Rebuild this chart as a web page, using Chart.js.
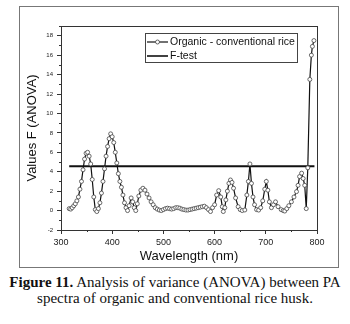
<!DOCTYPE html>
<html>
<head>
<meta charset="utf-8">
<script src="https://cdn.jsdelivr.net/npm/chart.js@4/dist/chart.umd.min.js"></script>
<style>
  body { margin: 0; width: 350px; height: 324px; background: #fff; position: relative; overflow: hidden; }
  #frame { position: absolute; left: 19px; top: 6px; width: 320px; height: 262px; box-sizing: border-box; border: 1px solid #777; }
  #chart { position: absolute; left: 0; top: 0; }
  #caption { position: absolute; left: 0; top: 275px; width: 350px; text-align: center;
    font-family: "Liberation Serif", "Times New Roman", serif; font-size: 15px; line-height: 15.5px; color: #111; }
</style>
</head>
<body>
<div id="frame"><canvas id="chart" width="318" height="260"></canvas></div>
<div id="caption"><b>Figure 11.</b> Analysis of variance (ANOVA) between PA<br>spectra of organic and conventional rice husk.</div>
<script>
// values
const wavelengths = [
  316, 319, 322, 325, 328, 331, 334, 337, 340, 343, 346, 349, 352, 355, 358, 361, 364, 367, 370, 373,
  376, 379, 382, 385, 388, 391, 394, 397, 400, 403, 406, 409, 412, 415, 418, 421, 424, 427, 430, 433,
  437, 440, 443, 446, 449, 452, 456, 460, 464, 468, 472, 476, 480, 484, 488, 492, 496, 500, 504, 508,
  512, 516, 520, 524, 528, 532, 536, 540, 544, 548, 552, 556, 560, 564, 568, 572, 576, 580, 584, 588,
  592, 596, 600, 604, 608, 612, 615, 617, 620, 622, 625, 628, 631, 634, 637, 641, 646, 650, 654, 659,
  663, 666, 669, 672, 675, 678, 682, 686, 690, 694, 698, 701, 704, 707, 711, 715, 719, 724, 730, 734,
  737, 741, 745, 750, 755, 760, 763, 766, 770, 773, 776, 779, 782, 786, 789, 791, 794
];
const fValues = [
  0.2, 0.15, 0.3, 0.5, 0.7, 1.0, 1.4, 2.2, 3.0, 4.2, 5.3, 5.9, 6.0, 5.6, 4.8, 3.2, 1.4, 0.1, -0.1, 0.2,
  0.8, 1.8, 3.0, 4.3, 5.6, 6.6, 7.4, 7.9, 7.6, 7.0, 6.0, 4.9, 3.8, 3.0, 2.4, 1.6, 0.8, 0.3, 0.0, 0.5,
  1.3, 0.9, 0.3, 0.0, 0.7, 1.5, 2.1, 2.3, 2.1, 1.7, 1.3, 0.9, 0.6, 0.3, 0.15, 0.05, 0.0, 0.1, 0.2, 0.25,
  0.2, 0.15, 0.2, 0.3, 0.3, 0.25, 0.15, 0.1, 0.05, 0.05, 0.1, 0.15, 0.2, 0.25, 0.3, 0.35, 0.4, 0.45, 0.3, 0.1,
  -0.1, 0.3, 0.6, 1.6, 2.05, 1.4, 0.4, -0.1, 0.3, 1.1, 2.0, 2.8, 3.15, 2.9, 2.3, 1.3, 0.4, 0.1, 0.0, 0.06,
  1.6, 3.0, 4.8, 2.8, 1.4, 0.6, 0.1, 0.05, 0.3, 1.0, 2.2, 3.0, 2.1, 0.9, 0.3, 0.6, 0.9, 0.4, 0.1, 0.0,
  -0.05, 0.2, 0.5, 0.9, 1.4, 1.95, 2.6, 3.5, 3.85, 3.3, 2.6, 0.2, 4.4, 13.5, 16.0, 16.9, 17.5
];
const fTestRange = [316, 795];
const fTestValue = 4.55;
const seriesLabels = ['Organic - conventional rice', 'F-test'];
const xTicks = [300, 400, 500, 600, 700, 800];
const yTicks = [-2, 0, 2, 4, 6, 8, 10, 12, 14, 16, 18];

const axisColor = '#333';

// frame, minor ticks and the boxed legend
const extras = {
  id: 'extras',
  beforeDatasetsDraw(chart) {
    const { ctx, chartArea: a, scales } = chart;
    ctx.save();
    ctx.strokeStyle = axisColor;
    ctx.lineWidth = 1;
    ctx.strokeRect(a.left + 0.5, a.top + 0.5, a.right - a.left, a.bottom - a.top);
    ctx.beginPath();
    for (let v = -1; v <= 19; v += 2) {
      const y = Math.round(scales.y.getPixelForValue(v)) + 0.5;
      ctx.moveTo(a.left - 2, y); ctx.lineTo(a.left, y);
    }
    for (let v = 350; v < 800; v += 100) {
      const x = Math.round(scales.x.getPixelForValue(v)) + 0.5;
      ctx.moveTo(x, a.bottom); ctx.lineTo(x, a.bottom + 2);
    }
    ctx.stroke();
    ctx.restore();
  },
  afterDraw(chart) {
    const { ctx } = chart;
    const ds = chart.data.datasets;
    const bx = 125, by = 26, bw = 152, bh = 29;
    ctx.save();
    ctx.fillStyle = '#fff';
    ctx.fillRect(bx, by, bw, bh);
    ctx.strokeStyle = '#444';
    ctx.lineWidth = 1;
    ctx.strokeRect(bx + 0.5, by + 0.5, bw, bh);
    ctx.font = '10.5px "Liberation Sans", Arial, sans-serif';
    ctx.textBaseline = 'middle';
    ctx.fillStyle = '#111';
    // row 1
    ctx.strokeStyle = '#111';
    ctx.lineWidth = 1.2;
    ctx.beginPath(); ctx.moveTo(127, 35); ctx.lineTo(148, 35); ctx.stroke();
    ctx.beginPath(); ctx.arc(137.5, 35, 2, 0, Math.PI * 2);
    ctx.fillStyle = '#fff'; ctx.fill();
    ctx.lineWidth = 0.8; ctx.strokeStyle = '#444'; ctx.stroke();
    ctx.fillStyle = '#111';
    ctx.fillText(ds[0].label, 150, 35);
    // row 2
    ctx.strokeStyle = '#111';
    ctx.lineWidth = 1.6;
    ctx.beginPath(); ctx.moveTo(127, 49); ctx.lineTo(148, 49); ctx.stroke();
    ctx.fillText(ds[1].label, 150, 49);
    ctx.restore();
  }
};

new Chart(document.getElementById('chart'), {
  type: 'line',
  data: {
    datasets: [{
      label: seriesLabels[0],
      data: wavelengths.map((w, i) => ({ x: w, y: fValues[i] })),
      borderColor: '#111',
      borderWidth: 1.2,
      pointRadius: 2,
      pointBorderWidth: 0.8,
      pointBorderColor: '#444',
      pointBackgroundColor: '#fff',
      tension: 0
    }, {
      label: seriesLabels[1],
      data: fTestRange.map(w => ({ x: w, y: fTestValue })),
      borderColor: '#111',
      borderWidth: 2,
      pointRadius: 0,
      tension: 0
    }]
  },
  options: {
    responsive: false,
    animation: false,
    devicePixelRatio: 1,
    layout: { padding: { top: 19, right: 21, left: 0, bottom: 0 } },
    plugins: { legend: { display: false }, tooltip: { enabled: false } },
    scales: {
      x: {
        type: 'linear',
        min: 300,
        max: 800,
        afterFit(scale) { scale.height = 37; },
        afterBuildTicks(scale) { scale.ticks = xTicks.map(v => ({ value: v })); },
        ticks: { font: { size: 9, family: '"Liberation Sans", Arial' }, color: '#222', padding: 3, maxRotation: 0 },
        grid: { drawOnChartArea: false, tickLength: 4, color: axisColor },
        border: { color: axisColor },
        title: {
          display: true, text: 'Wavelength (nm)', color: '#111',
          font: { size: 13, family: '"Liberation Sans", Arial' },
          padding: { top: 0, bottom: 3 }
        }
      },
      y: {
        min: -2,
        max: 19,
        afterFit(scale) { scale.width = 41; },
        afterBuildTicks(scale) { scale.ticks = yTicks.map(v => ({ value: v })); },
        ticks: { font: { size: 6, family: '"Liberation Sans", Arial' }, color: '#222', padding: 4 },
        grid: { drawOnChartArea: false, tickLength: 4, color: axisColor },
        border: { color: axisColor },
        title: {
          display: true, text: 'Values F (ANOVA)', color: '#111',
          font: { size: 13, family: '"Liberation Sans", Arial' },
          padding: { top: 5, bottom: 0 }
        }
      }
    }
  },
  plugins: [extras]
});
</script>
</body>
</html>
